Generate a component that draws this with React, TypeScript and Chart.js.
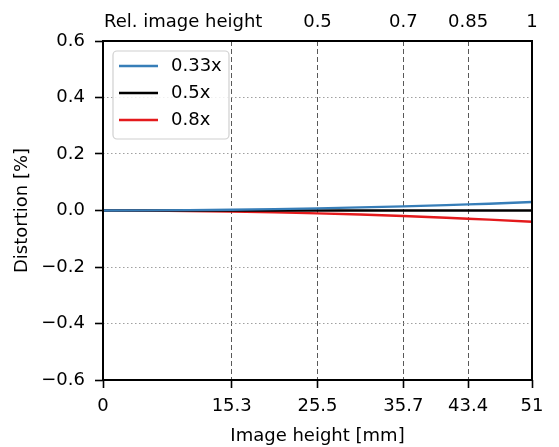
import React, { useEffect, useRef } from 'react';
import { Chart, registerables } from 'chart.js';

Chart.register(...registerables);

const imageHeightMm = [0, 5.1, 10.2, 15.3, 20.4, 25.5, 30.6, 35.7, 40.8, 43.4, 45.9, 51];
const dist033 = [0, 0.0003, 0.0012, 0.0027, 0.0048, 0.0075, 0.011, 0.0147, 0.019, 0.0217, 0.024, 0.03];
const dist05 = [0, 0, 0, 0, 0, 0, 0, 0, 0, 0, 0, 0];
const dist08 = [0, -0.0004, -0.0016, -0.0036, -0.0064, -0.01, -0.0144, -0.0196, -0.0256, -0.029, -0.0324, -0.04];
const seriesLabels = ['0.33x', '0.5x', '0.8x'];
const seriesColors = ['#377eb8', '#000000', '#e41a1c'];
const bottomTickValues = [0, 15.3, 25.5, 35.7, 43.4, 51];
const bottomTickLabels = ['0', '15.3', '25.5', '35.7', '43.4', '51'];
const topTickValues = [25.5, 35.7, 43.4, 51];
const topTickLabels = ['0.5', '0.7', '0.85', '1'];
const yTickValues = [-0.6, -0.4, -0.2, 0, 0.2, 0.4, 0.6];
const yTickLabels = ['−0.6', '−0.4', '−0.2', '0.0', '0.2', '0.4', '0.6'];
const xTitle = 'Image height [mm]';
const yTitle = 'Distortion [%]';
const topTitle = 'Rel. image height';

const FONT = 'DejaVu Sans';
const FS = 18;

const framePlugin = {
  id: 'frame',
  afterDraw(chart: any) {
    const { ctx, chartArea: a } = chart;
    ctx.save();
    ctx.strokeStyle = '#000';
    ctx.lineWidth = 2;
    ctx.strokeRect(a.left, a.top, a.right - a.left, a.bottom - a.top);
    ctx.fillStyle = '#000';
    ctx.font = `${FS}px "${FONT}"`;
    ctx.textAlign = 'left';
    ctx.textBaseline = 'middle';
    ctx.fillText(topTitle, a.left + 1, 22);
    ctx.restore();
  },
};

const legendPlugin = {
  id: 'boxLegend',
  afterDraw(chart: any) {
    const { ctx, chartArea: a } = chart;
    const x0 = a.left + 10;
    const y0 = a.top + 10;
    const w = 116;
    const h = 88;
    ctx.save();
    ctx.beginPath();
    const r = 4;
    ctx.moveTo(x0 + r, y0);
    ctx.arcTo(x0 + w, y0, x0 + w, y0 + h, r);
    ctx.arcTo(x0 + w, y0 + h, x0, y0 + h, r);
    ctx.arcTo(x0, y0 + h, x0, y0, r);
    ctx.arcTo(x0, y0, x0 + w, y0, r);
    ctx.closePath();
    ctx.fillStyle = 'rgba(255,255,255,0.85)';
    ctx.fill();
    ctx.strokeStyle = '#d0d0d0';
    ctx.lineWidth = 1.2;
    ctx.stroke();
    ctx.font = `${FS}px "${FONT}"`;
    ctx.textAlign = 'left';
    ctx.textBaseline = 'middle';
    chart.data.datasets.forEach((ds: any, i: number) => {
      const y = y0 + 15 + i * 27;
      ctx.beginPath();
      ctx.strokeStyle = ds.borderColor;
      ctx.lineWidth = 2.4;
      ctx.moveTo(x0 + 6, y);
      ctx.lineTo(x0 + 45, y);
      ctx.stroke();
      ctx.fillStyle = '#000';
      ctx.fillText(ds.label, x0 + 58, y);
    });
    ctx.restore();
  },
};

export default function App() {
  const ref = useRef<HTMLCanvasElement>(null);
  useEffect(() => {
    if (!ref.current) return;
    Chart.defaults.font.family = FONT;
    Chart.defaults.font.size = FS;
    Chart.defaults.color = '#000';
    const series = [dist033, dist05, dist08];
    const chart = new Chart(ref.current, {
      type: 'line',
      data: {
        datasets: series.map((vals, i) => ({
          label: seriesLabels[i],
          data: imageHeightMm.map((x, j) => ({ x, y: vals[j] })),
          borderColor: seriesColors[i],
          backgroundColor: seriesColors[i],
          borderWidth: 2.4,
          pointRadius: 0,
          tension: 0,
          fill: false,
        })),
      },
      options: {
        animation: false,
        responsive: false,
        devicePixelRatio: 1,
        layout: { padding: { left: 0, right: 27, top: 0, bottom: 0 } },
        plugins: { legend: { display: false }, tooltip: { enabled: false } },
        scales: {
          x: {
            type: 'linear',
            position: 'bottom',
            min: 0,
            max: 51,
            z: 1,
            afterBuildTicks: (s: any) => {
              s.ticks = bottomTickValues.map((v) => ({ value: v }));
            },
            afterFit: (s: any) => {
              s.height = 67;
            },
            ticks: {
              autoSkip: false,
              maxRotation: 0,
              padding: 8,
              callback: (_v: any, i: number) => bottomTickLabels[i],
            },
            grid: {
              color: (c: any) => (c.index === 0 || c.index === bottomTickValues.length - 1 ? 'rgba(0,0,0,0)' : 'rgba(60,60,60,0.85)'),
              lineWidth: 1,
              drawTicks: true,
              tickLength: 8,
              tickColor: '#000',
              tickWidth: 1.6,
            },
            border: { display: false, dash: [5, 3] },
            title: { display: true, text: xTitle, padding: { top: 0, bottom: 0 } },
          },
          x2: {
            type: 'linear',
            position: 'top',
            min: 0,
            max: 51,
            afterBuildTicks: (s: any) => {
              s.ticks = topTickValues.map((v) => ({ value: v }));
            },
            afterFit: (s: any) => {
              s.height = 41;
            },
            ticks: {
              autoSkip: false,
              maxRotation: 0,
              padding: 8,
              callback: (_v: any, i: number) => topTickLabels[i],
            },
            grid: { display: false, drawTicks: false, drawOnChartArea: false },
            border: { display: false },
          },
          y: {
            type: 'linear',
            position: 'left',
            min: -0.6,
            max: 0.6,
            z: 1,
            afterBuildTicks: (s: any) => {
              s.ticks = yTickValues.map((v) => ({ value: v }));
            },
            afterFit: (s: any) => {
              s.width = 103;
            },
            ticks: {
              padding: 10,
              callback: (_v: any, i: number) => yTickLabels[i],
            },
            grid: {
              color: (c: any) => (c.index === 0 || c.index === yTickValues.length - 1 ? 'rgba(0,0,0,0)' : 'rgba(150,150,150,0.9)'),
              lineWidth: 1,
              drawTicks: true,
              tickLength: 8,
              tickColor: '#000',
              tickWidth: 1.6,
            },
            border: { display: false, dash: [1.5, 2.5] },
            title: { display: true, text: yTitle, padding: { top: 12, bottom: 0 } },
          },
        },
      },
      plugins: [framePlugin, legendPlugin],
    });
    return () => chart.destroy();
  }, []);
  return (
    <div style={{ position: 'fixed', left: 0, top: 0, width: 559, height: 447, background: '#fff' }}>
      <canvas ref={ref} width={559} height={447} style={{ width: 559, height: 447 }} />
    </div>
  );
}
